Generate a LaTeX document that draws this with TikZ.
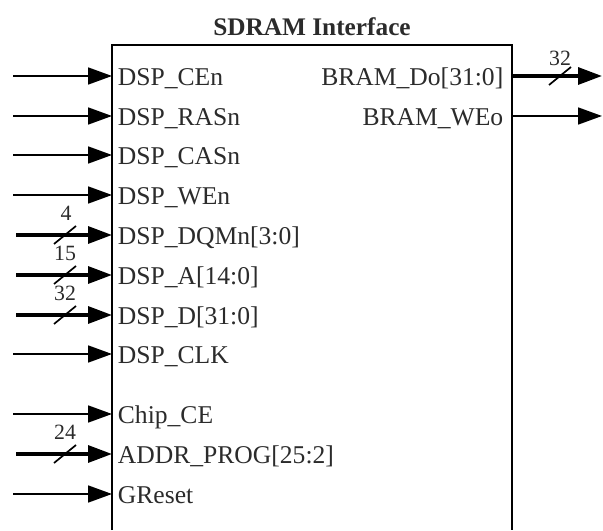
\documentclass[tikz,border=0pt]{standalone}
\usepackage{fontspec}
\setmainfont{Liberation Serif}
\usetikzlibrary{arrows.meta}
\definecolor{labeltext}{HTML}{2B2B2B}
\tikzset{
  port/.style={font=\fontsize{18.2}{20}\selectfont, text=labeltext,
               text height=15pt, text depth=1pt, inner xsep=4pt, inner ysep=0pt},
  inport/.style={port, anchor=west},
  outport/.style={port, anchor=east, inner xsep=6pt},
  sig/.style={-{Triangle[length=17pt, width=12pt]}, line width=1.4pt},
  bus/.style={sig, line width=2.4pt},
  slash/.style={line width=1.2pt},
  buswd/.style={font=\fontsize{15.5}{17}\selectfont, text=labeltext, inner sep=1pt},
}

\begin{document}
\begin{tikzpicture}
    \useasboundingbox (0,0) rectangle (15.075,13.25);
    % block outline, open at the bottom
    \draw[line width=2pt] (2.8,0) |- (12.8,12.125) -- (12.8,0);
    \node[font=\bfseries\fontsize{18}{20}\selectfont, text=labeltext, anchor=base] (title) at (7.8,12.35) {SDRAM Interface};

    % input ports
    \node[inport] (p0) at (2.8,11.35) {DSP\_CEn};
    \node[inport] (p1) at (2.8,10.35) {DSP\_RASn};
    \node[inport] (p2) at (2.8,9.375) {DSP\_CASn};
    \node[inport] (p3) at (2.8,8.375) {DSP\_WEn};
    \node[inport] (p4) at (2.8,7.375) {DSP\_DQMn[3:0]};
    \node[inport] (p5) at (2.8,6.375) {DSP\_A[14:0]};
    \node[inport] (p6) at (2.8,5.375) {DSP\_D[31:0]};
    \node[inport] (p7) at (2.8,4.4) {DSP\_CLK};
    \node[inport] (p8) at (2.8,2.9) {Chip\_CE};
    \node[inport] (p9) at (2.8,1.9) {ADDR\_PROG[25:2]};
    \node[inport] (p10) at (2.8,0.9) {GReset};

    \coordinate (i0) at (0.325,11.35);
    \coordinate (i1) at (0.325,10.35);
    \coordinate (i2) at (0.325,9.375);
    \coordinate (i3) at (0.325,8.375);
    \coordinate (i4) at (0.4,7.375);
    \coordinate (i5) at (0.4,6.375);
    \coordinate (i6) at (0.4,5.375);
    \coordinate (i7) at (0.325,4.4);
    \coordinate (i8) at (0.325,2.9);
    \coordinate (i9) at (0.4,1.9);
    \coordinate (i10) at (0.325,0.9);

    \draw[sig] (i0) -- (p0.west);
    \draw[sig] (i1) -- (p1.west);
    \draw[sig] (i2) -- (p2.west);
    \draw[sig] (i3) -- (p3.west);
    \draw[bus] (i4) -- (p4.west);
    \draw[bus] (i5) -- (p5.west);
    \draw[bus] (i6) -- (p6.west);
    \draw[sig] (i7) -- (p7.west);
    \draw[sig] (i8) -- (p8.west);
    \draw[bus] (i9) -- (p9.west);
    \draw[sig] (i10) -- (p10.west);

    % bus widths
    \draw[slash] (1.625,7.375) +(-0.275,-0.225) -- +(0.275,0.225);
    \node[buswd] (w4) at (1.65,7.925) {4};
    \draw[slash] (1.625,6.375) +(-0.275,-0.225) -- +(0.275,0.225);
    \node[buswd] (w5) at (1.625,6.925) {15};
    \draw[slash] (1.625,5.375) +(-0.275,-0.225) -- +(0.275,0.225);
    \node[buswd] (w6) at (1.625,5.925) {32};
    \draw[slash] (1.625,1.9) +(-0.275,-0.225) -- +(0.275,0.225);
    \node[buswd] (w9) at (1.625,2.45) {24};

    % output ports
    \node[outport] (q0) at (12.8,11.35) {BRAM\_Do[31:0]};
    \node[outport] (q1) at (12.8,10.35) {BRAM\_WEo};
    \coordinate (o0) at (15.05,11.35);
    \coordinate (o1) at (15.05,10.35);
    \draw[bus] (q0.east) -- (o0);
    \draw[sig] (q1.east) -- (o1);
    \draw[slash] (14.0,11.35) +(-0.275,-0.225) -- +(0.275,0.225);
    \node[buswd] (wo0) at (14.0,11.8) {32};
  \end{tikzpicture}
\end{document}
